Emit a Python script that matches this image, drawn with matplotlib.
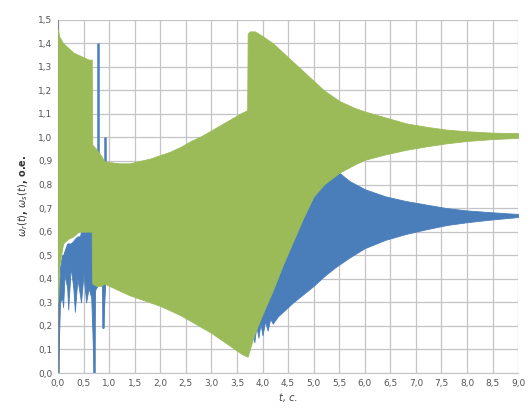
import matplotlib
matplotlib.use("Agg")
import matplotlib.pyplot as plt
import numpy as np

# ---- data (envelopes) ----
# green series (drawn on top)
g_t = [0.0, 0.02, 0.1, 0.2, 0.3, 0.4, 0.5, 0.6, 0.66, 0.67, 0.75, 0.85, 0.9, 1.0, 1.2, 1.4,
       1.6, 1.8, 2.0, 2.2, 2.4, 2.6, 2.8, 3.0, 3.2, 3.4, 3.6, 3.7, 3.71, 3.75, 3.85, 4.0,
       4.2, 4.4, 4.6, 4.8, 5.0, 5.2, 5.5, 5.8, 6.0, 6.4, 6.8, 7.2, 7.6, 8.0, 8.5, 9.0]
g_up = [1.46, 1.43, 1.40, 1.38, 1.36, 1.35, 1.34, 1.33, 1.33, 0.97, 0.95, 0.92, 0.90, 0.895, 0.89, 0.89,
        0.90, 0.91, 0.925, 0.94, 0.96, 0.985, 1.005, 1.03, 1.055, 1.08, 1.105, 1.115, 1.44, 1.45, 1.45, 1.43,
        1.40, 1.36, 1.32, 1.28, 1.24, 1.20, 1.155, 1.125, 1.11, 1.085, 1.06, 1.045, 1.033, 1.026, 1.02, 1.018]
g_lo = [0.30, 0.45, 0.55, 0.57, 0.58, 0.60, 0.60, 0.60, 0.60, 0.38, 0.37, 0.37, 0.38, 0.37, 0.35, 0.33,
        0.315, 0.30, 0.285, 0.265, 0.245, 0.22, 0.195, 0.17, 0.14, 0.11, 0.08, 0.07, 0.07, 0.10, 0.17, 0.25,
        0.35, 0.46, 0.56, 0.66, 0.75, 0.80, 0.85, 0.885, 0.905, 0.928, 0.947, 0.962, 0.975, 0.985, 0.993, 0.998]

# blue series, early part (t < 1)
b1_t = [0.0, 0.02, 0.04, 0.08, 0.10, 0.13, 0.18, 0.20, 0.25, 0.30, 0.33, 0.38, 0.43, 0.45, 0.50,
        0.55, 0.60, 0.65, 0.70, 0.72, 0.80, 0.86, 0.88, 0.92]
b1_up = [0.30, 0.35, 0.45, 0.50, 0.50, 0.52, 0.55, 0.55, 0.55, 0.56, 0.57, 0.58, 0.58, 0.60, 0.60,
         0.61, 0.62, 0.62, 0.60, 0.55, 0.50, 0.50, 0.45, 0.40]
b1_lo = [0.0, 0.15, 0.30, 0.32, 0.28, 0.42, 0.36, 0.27, 0.45, 0.36, 0.26, 0.40, 0.33, 0.30, 0.42,
         0.30, 0.36, 0.32, 0.0, 0.35, 0.38, 0.38, 0.19, 0.36]

# blue series, later part (t > 3.7)
b2_t = [3.74, 3.76, 3.8, 3.84, 3.88, 3.92, 3.96, 4.0, 4.05, 4.1, 4.15, 4.2, 4.3, 4.4, 4.5, 4.6, 4.8,
        5.0, 5.2, 5.4, 5.5, 5.7, 6.0, 6.4, 6.8, 7.2, 7.6, 8.0, 8.5, 9.0]
b2_up = [0.84, 0.84, 0.84, 0.84, 0.84, 0.84, 0.84, 0.84, 0.84, 0.84, 0.84, 0.84, 0.84, 0.84, 0.84, 0.84, 0.84,
         0.84, 0.84, 0.845, 0.85, 0.815, 0.78, 0.75, 0.73, 0.715, 0.70, 0.69, 0.682, 0.675]
b2_lo = [0.17, 0.12, 0.19, 0.13, 0.20, 0.15, 0.21, 0.16, 0.22, 0.18, 0.23, 0.21, 0.24, 0.26, 0.28, 0.30, 0.335,
         0.37, 0.41, 0.445, 0.46, 0.49, 0.53, 0.565, 0.59, 0.61, 0.628, 0.64, 0.652, 0.662]

# single blue spikes (t, low, high)
spike_t = [0.0, 0.70, 0.78, 0.88, 0.92]
spike_lo = [0.0, 0.0, 0.55, 0.19, 0.60]
spike_hi = [0.30, 0.60, 1.40, 0.60, 1.00]

x_ticks = np.arange(0, 9.01, 0.5)
y_ticks = np.arange(0, 1.501, 0.1)

GREEN = "#9BBB59"
BLUE = "#4A7EBB"

fig = plt.figure(figsize=(5.32, 4.17), dpi=100)
ax = fig.add_axes([0.109, 0.1055, 0.865, 0.8475])

ax.fill_between(b1_t, b1_lo, b1_up, color=BLUE, lw=0.6, zorder=2)
ax.fill_between(b2_t, b2_lo, b2_up, color=BLUE, lw=0.6, zorder=2)
ax.vlines(spike_t, spike_lo, spike_hi, color=BLUE, lw=1.8, zorder=2)
ax.fill_between(g_t, g_lo, g_up, color=GREEN, lw=0.6, zorder=3)

ax.set_xlim(0, 9)
ax.set_ylim(0, 1.5)
ax.set_xticks(x_ticks)
ax.set_yticks(y_ticks)
ax.set_xticklabels([f"{v:.1f}".replace(".", ",") for v in x_ticks], fontsize=6.5, color="#555555")
ax.set_yticklabels([f"{v:.1f}".replace(".", ",") for v in y_ticks], fontsize=6.5, color="#555555")
ax.tick_params(length=0, pad=4)
ax.grid(True, color="#c4c4c8", lw=0.9, zorder=0)
ax.set_axisbelow(True)
for s in ax.spines.values():
    s.set_visible(False)
ax.spines["left"].set_visible(True)
ax.spines["left"].set_color("#888888")
ax.spines["bottom"].set_visible(True)
ax.spines["bottom"].set_color("#c4c4c8")

ax.set_xlabel("t, с.", fontsize=7, fontstyle="italic", color="#444444", labelpad=4)
ax.set_ylabel(r"$\omega_r(t)$, $\omega_s(t)$, о.е.", fontsize=7, fontweight="bold", color="#333333", labelpad=6)

fig.savefig("out.png", dpi=100)
